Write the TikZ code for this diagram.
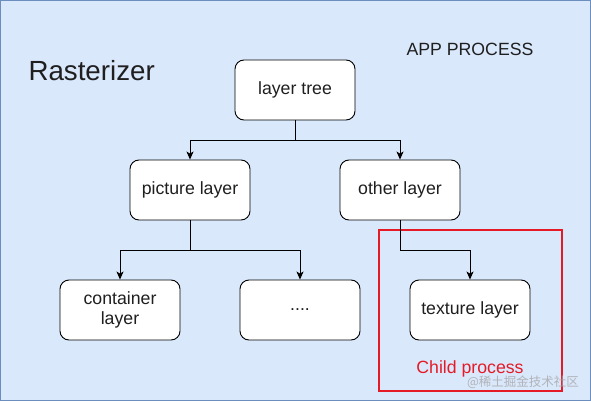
\documentclass[tikz,border=0pt]{standalone}
\usepackage{fontspec}
\setmainfont{Liberation Sans}
\newfontfamily\cjk{Noto Sans CJK SC}
\usetikzlibrary{arrows.meta}
\begin{document}
\begin{tikzpicture}[x=1pt,y=-1pt,
  box/.style={draw=black,fill=white,line width=0.9pt,rounded corners=9pt,minimum width=120pt,minimum height=60pt,inner sep=0pt,align=center,font=\fontsize{17.7}{21}\selectfont,text=black!88},
  conn/.style={draw=black,line width=0.9pt,-{Stealth[length=8pt,width=7pt,inset=2pt]}},
  link/.style={draw=black,line width=0.9pt}]
\useasboundingbox (0,0) rectangle (591,401);
\draw[fill={rgb,255:red,218;green,232;blue,252},draw={rgb,255:red,108;green,142;blue,191},line width=1.2pt] (0.6,0.6) rectangle (590.4,400.4);
\node[anchor=west,font=\fontsize{27.7}{30}\selectfont,text=black!88] (title) at (25,71) {Rasterizer};
\node[font=\fontsize{17.7}{20}\selectfont,text=black!88] (app) at (470,49) {APP PROCESS};
\draw[draw={rgb,255:red,228;green,27;blue,38},line width=1.5pt] (379,230) rectangle (562,391);
\node[font=\fontsize{17.7}{20}\selectfont,text={rgb,255:red,228;green,27;blue,38}] (child) at (470,369) {Child process};
\node[box] (tree) at (295,90) {layer tree};
\node[box] (pic) at (190,190) {picture layer};
\node[box] (other) at (400,190) {other layer};
\node[box] (cont) at (120,310) {container\\[-1pt]layer};
\node[box] (dots) at (300,310) {....};
\node[box] (tex) at (470,310) {texture layer};
\coordinate (j1) at (295,140);
\coordinate (j2) at (190,250);
\coordinate (j3) at (400,250);
\draw[link] (tree.south) -- (j1);
\draw[conn] (j1) -| (pic.north);
\draw[conn] (j1) -| (other.north);
\draw[link] (pic.south) -- (j2);
\draw[conn] (j2) -| (cont.north);
\draw[conn] (j2) -| (dots.north);
\draw[conn] (other.south) |- (j3) -| (tex.north);
\node[font=\cjk\fontsize{12.5}{14}\selectfont,text=black!35,opacity=0.8] (wm) at (523,382) {@稀土掘金技术社区};
\end{tikzpicture}
\end{document}
